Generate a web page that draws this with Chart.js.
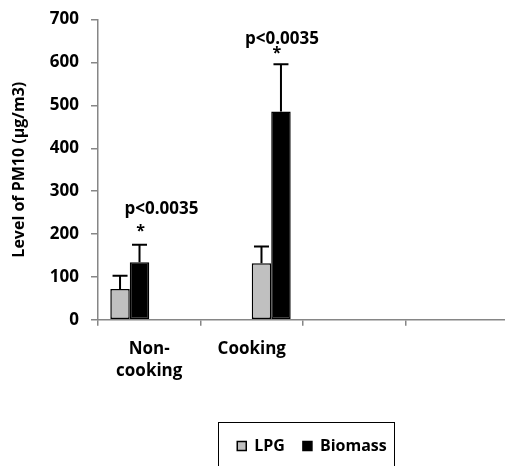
<!DOCTYPE html>
<html>
<head>
<meta charset="utf-8">
<script src="https://cdn.jsdelivr.net/npm/chart.js@4"></script>
<style>
  html, body { margin: 0; padding: 0; background: #fff; overflow: hidden; }
  #wrap { width: 512px; height: 466px; }
</style>
</head>
<body>
<div id="wrap"><canvas id="pm10" width="512" height="466"></canvas></div>
<script>
// categories on the x axis (last two are empty, as in the original sheet)
const categories = [['Non-', 'cooking'], 'Cooking', '', ''];
const seriesNames = ['LPG', 'Biomass'];
const yTicks = [0, 100, 200, 300, 400, 500, 600, 700];

// mean PM10 (µg/m3) for non-cooking, cooking
const lpgMean = [72, 132];
const biomassMean = [134, 486];
// upper error (SD)
const lpgErr = [31, 39];
const biomassErr = [41, 110];

const pText = ['p<0.0035', 'p<0.0035'];
const starText = ['*', '*'];

const FONT = "'Open Sans', 'DejaVu Sans', sans-serif";
const AXIS_GREY = '#868686';

// the sheet has one series per slot, so non-cooking uses slots 1-2, cooking slots 3-4
const slot = (vals, k) => categories.map((c, i) => (i === k ? vals[k] : null));

const datasets = [
  { label: seriesNames[0], data: slot(lpgMean, 0), err: slot(lpgErr, 0), backgroundColor: '#c0c0c0' },
  { label: seriesNames[1], data: slot(biomassMean, 0), err: slot(biomassErr, 0), backgroundColor: '#000000' },
  { label: seriesNames[0], data: slot(lpgMean, 1), err: slot(lpgErr, 1), backgroundColor: '#c0c0c0' },
  { label: seriesNames[1], data: slot(biomassMean, 1), err: slot(biomassErr, 1), backgroundColor: '#000000' }
].map(d => Object.assign(d, {
  borderColor: '#000000',
  borderWidth: 1.5,
  borderSkipped: false,
  categoryPercentage: 0.76,
  barPercentage: 1.0
}));

// upward error bars with a cap
const errorBars = {
  id: 'errorBars',
  afterDatasetsDraw(chart) {
    const ctx = chart.ctx;
    const y = chart.scales.y;
    ctx.save();
    ctx.strokeStyle = '#000';
    ctx.lineWidth = 2;
    chart.data.datasets.forEach((ds, i) => {
      const meta = chart.getDatasetMeta(i);
      ds.data.forEach((v, j) => {
        if (v === null) return;
        const bar = meta.data[j];
        const top = y.getPixelForValue(v + ds.err[j]);
        ctx.beginPath();
        ctx.moveTo(bar.x, bar.y);
        ctx.lineTo(bar.x, top);
        ctx.moveTo(bar.x - 7.5, top);
        ctx.lineTo(bar.x + 7.5, top);
        ctx.stroke();
      });
    });
    ctx.restore();
  }
};

// significance labels over the biomass bars
const annotations = {
  id: 'annotations',
  afterDatasetsDraw(chart) {
    const ctx = chart.ctx;
    const y = chart.scales.y;
    const spots = [
      { ds: 1, idx: 0, pdx: 22, pdy: -31, sdx: 1, sdy: -16 },
      { ds: 3, idx: 1, pdx: 1, pdy: -20.5, sdx: -4, sdy: -14 }
    ];
    ctx.save();
    ctx.fillStyle = '#000';
    ctx.textAlign = 'center';
    spots.forEach((s, k) => {
      const ds = chart.data.datasets[s.ds];
      const bar = chart.getDatasetMeta(s.ds).data[s.idx];
      const top = y.getPixelForValue(ds.data[s.idx] + ds.err[s.idx]);
      ctx.font = 'bold 17px ' + FONT;
      ctx.textBaseline = 'alphabetic';
      ctx.fillText(pText[k], bar.x + s.pdx, top + s.pdy);
      ctx.font = 'bold 16px ' + FONT;
      ctx.textBaseline = 'middle';
      ctx.fillText(starText[k], bar.x + s.sdx, top + s.sdy + 3);
    });
    ctx.restore();
  }
};

// y title, legend frame
const extras = {
  id: 'extras',
  afterLayout(chart) {
    // Excel placed the legend a little right of the plot centre
    chart.legend.left += 9;
    chart.legend.right += 9;
  },
  afterDraw(chart) {
    const ctx = chart.ctx;
    const area = chart.chartArea;
    ctx.save();
    ctx.fillStyle = '#000';
    ctx.font = 'bold 16px ' + FONT;
    ctx.textAlign = 'center';
    ctx.textBaseline = 'middle';
    ctx.translate(19.5, (area.top + area.bottom) / 2);
    ctx.rotate(-Math.PI / 2);
    ctx.fillText('Level of PM10 (µg/m3)', 0, 0);
    ctx.restore();

    const boxes = chart.legend.legendHitBoxes;
    if (boxes && boxes.length) {
      const first = boxes[0];
      const last = boxes[boxes.length - 1];
      ctx.save();
      ctx.strokeStyle = '#000';
      ctx.lineWidth = 1;
      ctx.strokeRect(Math.round(first.left - 19) + 0.5, Math.round(first.top - 16) + 0.5,
        Math.round(last.left + last.width + 8 - (first.left - 19)), 60);
      ctx.restore();
    }
  }
};

new Chart(document.getElementById('pm10'), {
  type: 'bar',
  data: { labels: categories, datasets },
  plugins: [errorBars, annotations, extras],
  options: {
    responsive: false,
    animation: false,
    layout: { padding: { top: 17.5, right: 4, bottom: 2, left: 0 } },
    plugins: {
      tooltip: { enabled: false },
      legend: {
        position: 'bottom',
        fullSize: false,
        labels: {
          filter: item => item.datasetIndex < 2,
          boxWidth: 9,
          boxHeight: 9,
          padding: 18,
          color: '#000',
          font: { family: FONT, size: 16, weight: 'bold' }
        }
      }
    },
    scales: {
      x: {
        grid: { offset: true, drawOnChartArea: false, drawTicks: true, tickLength: 6, color: AXIS_GREY, lineWidth: 1.5 },
        border: { color: AXIS_GREY, width: 1.5 },
        ticks: {
          autoSkip: false, maxRotation: 0, padding: 12, color: '#000',
          font: { family: FONT, size: 17, weight: 'bold', lineHeight: 1.3 }
        },
        afterFit(scale) { scale.height += 26; }
      },
      y: {
        min: 0,
        max: 700,
        afterBuildTicks(scale) { scale.ticks = yTicks.map(v => ({ value: v })); },
        grid: { drawOnChartArea: false, drawTicks: true, tickLength: 7, color: AXIS_GREY, lineWidth: 1.5 },
        border: { color: AXIS_GREY, width: 1.5 },
        ticks: {
          padding: 12, color: '#000',
          font: { family: FONT, size: 17, weight: 'bold', lineHeight: 0.9 }
        },
        afterFit(scale) { scale.width = 98; }
      }
    }
  }
});
</script>
</body>
</html>
